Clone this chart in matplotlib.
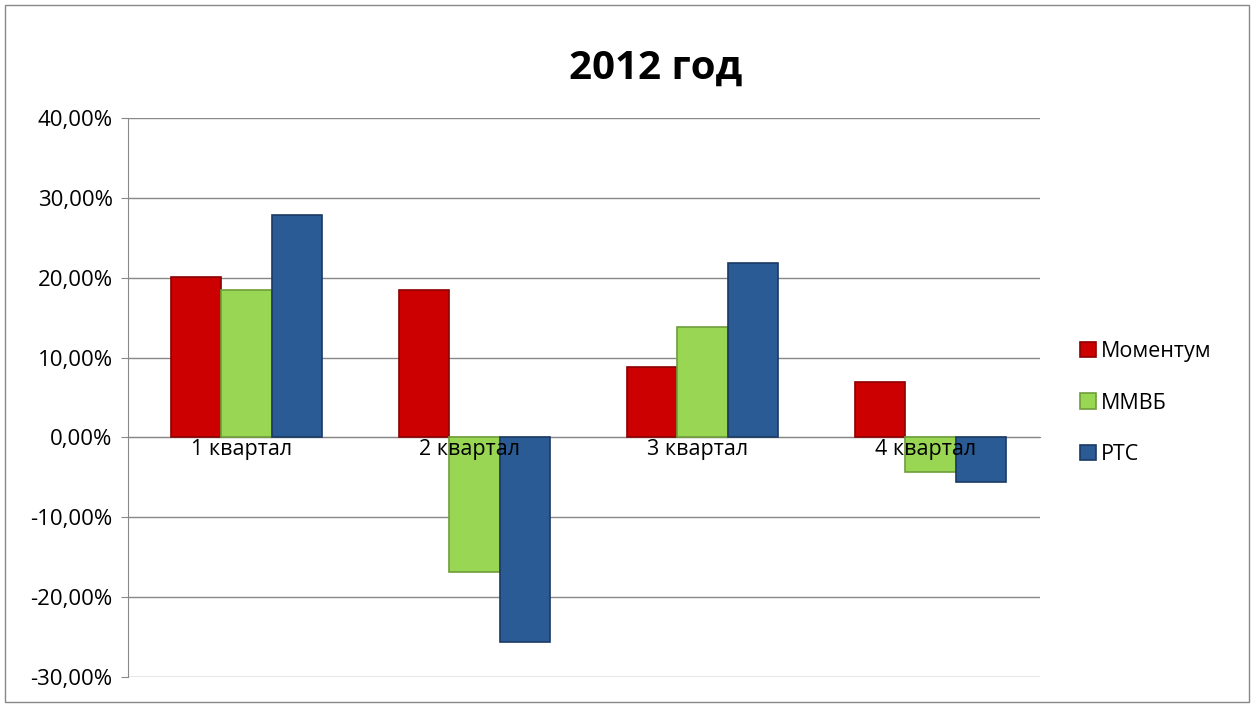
import numpy as np
import matplotlib.pyplot as plt
from matplotlib.patches import Rectangle

plt.rcParams['font.family'] = ['Open Sans', 'DejaVu Sans']

quarters = ['1 квартал', '2 квартал', '3 квартал', '4 квартал']
momentum = [20.1, 18.4, 8.8, 6.9]
mmvb = [18.4, -16.9, 13.8, -4.3]
rts = [27.9, -25.6, 21.9, -5.6]

series = [('Моментум', momentum, '#CC0000', '#8B0000'),
          ('ММВБ', mmvb, '#99D654', '#6E9E3A'),
          ('РТС', rts, '#2A5B94', '#1A3A63')]

fig = plt.figure(figsize=(12.52, 7.04), dpi=100)
ax = fig.add_axes([0.1022, 0.0384, 0.7284, 0.794])

x = np.arange(len(quarters))
w = 0.22
for i, (name, vals, col, edge) in enumerate(series):
    ax.bar(x + (i - 1) * w + 0.02, vals, width=w, color=col, edgecolor=edge,
           linewidth=1.2, label=name, zorder=3)

ax.set_xlim(-0.5, 3.5)
ax.set_ylim(-30, 40)
yt = np.arange(-30, 41, 10)
ax.set_yticks(yt)
ax.set_yticklabels([('%.2f%%' % v).replace('.', ',') for v in yt])
ax.grid(axis='y', color='#888888', linewidth=1, zorder=0)
ax.tick_params(axis='y', labelsize=16, length=5, color='#888888', pad=6)

ax.spines['bottom'].set_position(('data', 0))
ax.spines['bottom'].set_color('#888888')
ax.spines['left'].set_color('#888888')
ax.spines['top'].set_visible(False)
ax.spines['right'].set_visible(False)
ax.set_xticks(x)
ax.set_xticklabels(quarters, fontsize=15.5)
ax.tick_params(axis='x', length=0, pad=1)
ax.xaxis.set_zorder(5)

fig.text(0.524, 0.903, '2012 год', fontsize=29, fontweight='bold',
         ha='center', va='center')

ax.legend(loc='center left', bbox_to_anchor=(1.035, 0.49), frameon=False,
          fontsize=15.5, handlelength=0.7, handleheight=0.7, handletextpad=0.25,
          labelspacing=1.4, borderaxespad=0)

fig.patches.append(Rectangle((0.004, 0.003), 0.994, 0.99, transform=fig.transFigure,
                             fill=False, edgecolor='#888888', linewidth=1))

fig.savefig('out.png', dpi=100)
